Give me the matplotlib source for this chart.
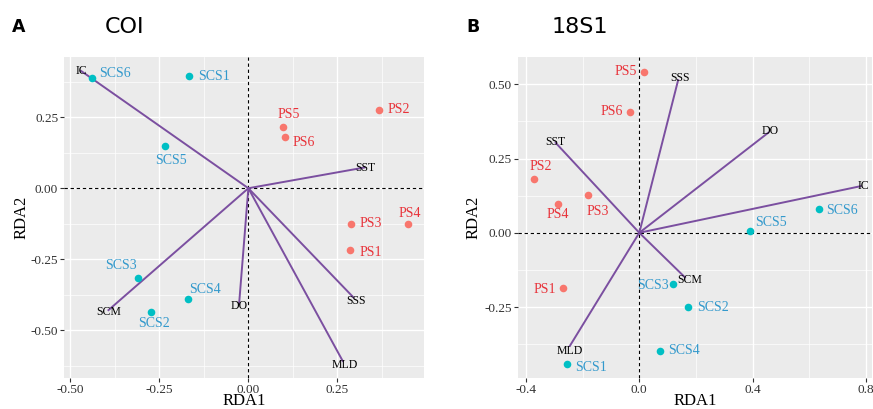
import numpy as np
import matplotlib.pyplot as plt

# site scores, panel A (COI)
a_sites = ['SCS6', 'SCS1', 'SCS5', 'PS5', 'PS6', 'PS2', 'PS3', 'PS4', 'PS1', 'SCS3', 'SCS4', 'SCS2']
a_x = [-0.438, -0.167, -0.233, 0.098, 0.104, 0.368, 0.288, 0.448, 0.286, -0.311, -0.170, -0.274]
a_y = [0.389, 0.394, 0.150, 0.217, 0.182, 0.277, -0.125, -0.126, -0.218, -0.316, -0.391, -0.436]
# env arrows, panel A
a_env = ['IC', 'SST', 'SCM', 'DO', 'SSS', 'MLD']
a_ex = [-0.470, 0.326, -0.393, -0.026, 0.295, 0.265]
a_ey = [0.413, 0.073, -0.429, -0.407, -0.384, -0.608]

# site scores, panel B (18S1)
b_sites = ['PS5', 'PS6', 'PS2', 'PS4', 'PS3', 'PS1', 'SCS1', 'SCS4', 'SCS3', 'SCS2', 'SCS5', 'SCS6']
b_x = [0.016, -0.034, -0.371, -0.287, -0.181, -0.269, -0.256, 0.073, 0.120, 0.172, 0.392, 0.633]
b_y = [0.542, 0.407, 0.180, 0.098, 0.128, -0.187, -0.441, -0.398, -0.174, -0.249, 0.005, 0.080]
b_env = ['SSS', 'DO', 'SST', 'IC', 'SCM', 'MLD']
b_ex = [0.137, 0.455, -0.295, 0.781, 0.161, -0.245]
b_ey = [0.514, 0.337, 0.303, 0.157, -0.150, -0.381]

# label offsets (pixels) and alignment for each site label
a_off = {'SCS6': (7, 4, 'left'), 'SCS1': (9, 0, 'left'), 'SCS5': (6, -15, 'center'),
         'PS5': (5, 12, 'center'), 'PS6': (7, -6, 'left'), 'PS2': (8, 0, 'left'),
         'PS3': (9, 0, 'left'), 'PS4': (2, 11, 'center'), 'PS1': (9, -2, 'left'),
         'SCS3': (-17, 13, 'center'), 'SCS4': (17, 10, 'center'), 'SCS2': (3, -11, 'center')}
b_off = {'PS5': (-7, 0, 'right'), 'PS6': (-7, 0, 'right'), 'PS2': (7, 13, 'center'),
         'PS4': (0, -11, 'center'), 'PS3': (10, -17, 'center'), 'PS1': (-7, -1, 'right'),
         'SCS1': (8, -4, 'left'), 'SCS4': (8, 0, 'left'), 'SCS3': (-5, -1, 'right'),
         'SCS2': (9, -1, 'left'), 'SCS5': (21, 9, 'center'), 'SCS6': (7, -1, 'left')}
a_eoff = {'IC': (0, 0), 'SST': (1, 0), 'SCM': (0, -2), 'DO': (0, -2), 'SSS': (3, -4), 'MLD': (2, -4)}
b_eoff = {'SSS': (2, 2), 'DO': (2, 2), 'SST': (0, 1), 'IC': (3, 0), 'SCM': (5, -3), 'MLD': (0, -5)}

red_pt, blue_pt = '#F8766D', '#00BFC4'
red_txt, blue_txt = '#E8333A', '#3399CC'
purple = '#7B4FA0'
serif = 'Liberation Serif'

fig = plt.figure(figsize=(8.73, 4.09), dpi=100)
axA = fig.add_axes([0.0733, 0.0758, 0.4124, 0.7848])
axB = fig.add_axes([0.593, 0.0751, 0.4062, 0.7863])


def panel(ax, sites, xs, ys, env, ex, ey, off, eoff, xlim, ylim, xt, yt, xminor, yminor, xfmt,
          xlab_y, ylab_x):
    ax.set_facecolor('#EBEBEB')
    for s in ax.spines.values():
        s.set_visible(False)
    ax.set_xlim(xlim)
    ax.set_ylim(ylim)
    ax.set_xticks(xt)
    ax.set_yticks(yt)
    ax.set_xticks(xminor, minor=True)
    ax.set_yticks(yminor, minor=True)
    ax.set_xticklabels([xfmt % v for v in xt])
    ax.set_yticklabels(['%.2f' % v for v in yt])
    ax.grid(which='major', color='white', lw=1.0)
    ax.grid(which='minor', color='white', lw=0.5)
    ax.set_axisbelow(True)
    ax.tick_params(which='major', length=2.7, width=0.8, color='#333333', labelsize=9.5, pad=1.5,
                   labelcolor='#333333')
    ax.tick_params(which='minor', length=0)
    for lab in ax.get_xticklabels() + ax.get_yticklabels():
        lab.set_family(serif)
    ax.axhline(0, color='black', ls='--', lw=0.8, dashes=(3, 2.5), zorder=1)
    ax.axvline(0, color='black', ls='--', lw=0.8, dashes=(3, 2.5), zorder=1)
    for n, x, y in zip(env, ex, ey):
        ax.plot([0, x], [0, y], color=purple, lw=1.4, zorder=2)
        dx, dy = eoff[n]
        ax.annotate(n, (x, y), xytext=(dx, dy), textcoords='offset pixels', ha='center', va='center',
                    fontsize=8.5, family=serif, color='black', zorder=3)
    for n, x, y in zip(sites, xs, ys):
        pc = red_pt if n.startswith('PS') else blue_pt
        tc = red_txt if n.startswith('PS') else blue_txt
        ax.scatter(x, y, s=30, color=pc, zorder=4, linewidths=0)
        dx, dy, ha = off[n]
        ax.annotate(n, (x, y), xytext=(dx, dy), textcoords='offset pixels', ha=ha, va='center',
                    fontsize=10, family=serif, color=tc, zorder=5)
    ax.set_xlabel('RDA1', family=serif, fontsize=12, va='center')
    ax.set_ylabel('RDA2', family=serif, fontsize=12, va='center')
    ax.xaxis.set_label_coords(0.5, xlab_y)
    ax.yaxis.set_label_coords(ylab_x, 0.5)


panel(axA, a_sites, a_x, a_y, a_env, a_ex, a_ey, a_off, a_eoff,
      (-0.518, 0.4935), (-0.668, 0.462),
      [-0.5, -0.25, 0, 0.25], [-0.5, -0.25, 0, 0.25],
      [-0.375, -0.125, 0.125, 0.375], [-0.625, -0.375, -0.125, 0.125, 0.375], '%.2f',
      -0.072, -0.117)
panel(axB, b_sites, b_x, b_y, b_env, b_ex, b_ey, b_off, b_eoff,
      (-0.429, 0.822), (-0.490, 0.593),
      [-0.4, 0, 0.4, 0.8], [-0.25, 0, 0.25, 0.5],
      [-0.2, 0.2, 0.6], [-0.375, -0.125, 0.125, 0.375], '%.1f',
      -0.072, -0.125)

fig.text(18.5 / 873, 1 - 27 / 409, 'A', fontsize=12.5, fontweight='bold', ha='center', va='center')
fig.text(124 / 873, 1 - 27 / 409, 'COI', fontsize=16, ha='center', va='center')
fig.text(473 / 873, 1 - 27 / 409, 'B', fontsize=12.5, fontweight='bold', ha='center', va='center')
fig.text(580 / 873, 1 - 27 / 409, '18S1', fontsize=16, ha='center', va='center')

plt.savefig('out.png', dpi=100)
